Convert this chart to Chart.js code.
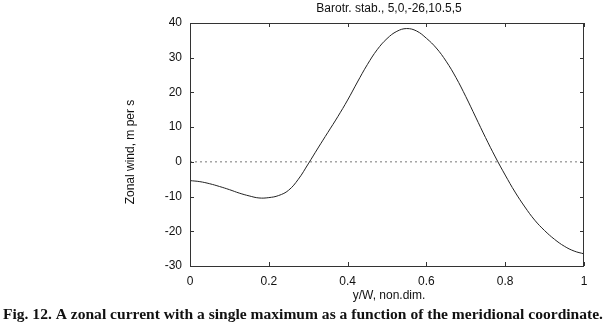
<!DOCTYPE html>
<html>
<head>
<meta charset="utf-8">
<script src="https://cdn.jsdelivr.net/npm/chart.js@4"></script>
<style>
  html, body { margin: 0; padding: 0; background: #fff; }
  #c { display: block; }
</style>
</head>
<body>
<canvas id="c" width="605" height="332"></canvas>
<script>
// values
const yOverW = [0, 0.025, 0.05, 0.075, 0.1, 0.125, 0.15, 0.175, 0.2, 0.225, 0.25, 0.275, 0.3,
  0.325, 0.35, 0.375, 0.4, 0.425, 0.45, 0.475, 0.5, 0.525, 0.55, 0.575, 0.6, 0.625, 0.65,
  0.675, 0.7, 0.725, 0.75, 0.775, 0.8, 0.825, 0.85, 0.875, 0.9, 0.925, 0.95, 0.975, 1];
const zonalWind = [-5.4, -5.7, -6.3, -7.1, -8.0, -9.0, -9.8, -10.4, -10.3, -9.7, -8.2, -5.0, -0.6,
  4.0, 8.5, 13.0, 17.8, 23.0, 28.0, 32.3, 35.5, 37.6, 38.4, 37.7, 35.6, 32.8, 29.0,
  24.3, 18.8, 12.9, 7.0, 1.4, -3.8, -8.7, -13.0, -16.8, -19.8, -22.3, -24.3, -25.7, -26.5];
const zeroX = [0, 1];
const zeroY = [0, 0];
const xTicks = [0, 0.2, 0.4, 0.6, 0.8, 1];
const yTicks = [-30, -20, -10, 0, 10, 20, 30, 40];

const plotTitle = 'Barotr. stab., 5,0,-26,10.5,5';
const xTitle = 'y/W, non.dim.';
const yTitle = 'Zonal wind, m per s';
const caption = 'Fig. 12. A zonal current with a single maximum as a function of the meridional coordinate.';

const sans = '"Liberation Sans", Arial, sans-serif';

const frame = {
  id: 'frame',
  afterDraw(chart) {
    const ctx = chart.ctx;
    const a = chart.chartArea;
    const xs = chart.scales.x, ys = chart.scales.y;
    ctx.save();
    ctx.strokeStyle = '#333';
    ctx.lineWidth = 1;
    ctx.strokeRect(a.left + 0.5, a.top + 0.5, a.right - a.left - 1, a.bottom - a.top);
    // inward ticks, mirrored on all four sides
    ctx.beginPath();
    xTicks.forEach(v => {
      const px = Math.round(xs.getPixelForValue(v)) + 0.5;
      ctx.moveTo(px, a.bottom); ctx.lineTo(px, a.bottom - 4);
      ctx.moveTo(px, a.top); ctx.lineTo(px, a.top + 4);
    });
    yTicks.forEach(v => {
      const py = Math.round(ys.getPixelForValue(v)) + 0.5;
      ctx.moveTo(a.left, py); ctx.lineTo(a.left + 4, py);
      ctx.moveTo(a.right, py); ctx.lineTo(a.right - 4, py);
    });
    ctx.stroke();

    ctx.fillStyle = '#111';
    ctx.font = '12px ' + sans;
    ctx.textAlign = 'center';
    ctx.textBaseline = 'middle';
    const cx = (a.left + a.right) / 2;
    ctx.fillText(plotTitle, cx + 2, 9);
    ctx.fillText(xTitle, cx + 2, 296);

    ctx.save();
    ctx.translate(131, 152);
    ctx.rotate(-Math.PI / 2);
    ctx.fillText(yTitle, 0, 0);
    ctx.restore();

    // caption in a serif face, stretched to the scanned width
    ctx.font = 'bold 14px "Liberation Serif", "DejaVu Serif", serif';
    ctx.textAlign = 'left';
    const w = ctx.measureText(caption).width;
    ctx.save();
    ctx.translate(3, 315);
    ctx.scale(600 / w, 1);
    ctx.fillText(caption, 0, 0);
    ctx.restore();
    ctx.restore();
  }
};

new Chart(document.getElementById('c'), {
  type: 'line',
  data: {
    datasets: [
      {
        data: zeroX.map((x, i) => ({ x: x, y: zeroY[i] })),
        borderColor: '#777',
        borderWidth: 1,
        borderDash: [2, 3],
        pointRadius: 0
      },
      {
        data: yOverW.map((x, i) => ({ x: x, y: zonalWind[i] })),
        borderColor: '#222',
        borderWidth: 1,
        pointRadius: 0,
        tension: 0.4
      }
    ]
  },
  options: {
    responsive: false,
    animation: false,
    layout: { padding: { left: 0, top: 23, right: 21, bottom: 36 } },
    plugins: { legend: { display: false }, tooltip: { enabled: false } },
    scales: {
      x: {
        type: 'linear', min: 0, max: 1,
        afterFit: s => { s.height = 30; },
        afterBuildTicks: s => { s.ticks = xTicks.map(v => ({ value: v })); },
        grid: { display: false, drawTicks: false },
        border: { display: false },
        ticks: {
          color: '#111', padding: 8, font: { family: sans, size: 12 }, maxRotation: 0, autoSkip: false,
          callback: v => String(Number(v.toFixed(2)))
        }
      },
      y: {
        type: 'linear', min: -30, max: 40,
        afterFit: s => { s.width = 190; },
        afterBuildTicks: s => { s.ticks = yTicks.map(v => ({ value: v })); },
        grid: { display: false, drawTicks: false },
        border: { display: false },
        ticks: { color: '#111', padding: 8, font: { family: sans, size: 12 } }
      }
    }
  },
  plugins: [frame]
});
</script>
</body>
</html>
